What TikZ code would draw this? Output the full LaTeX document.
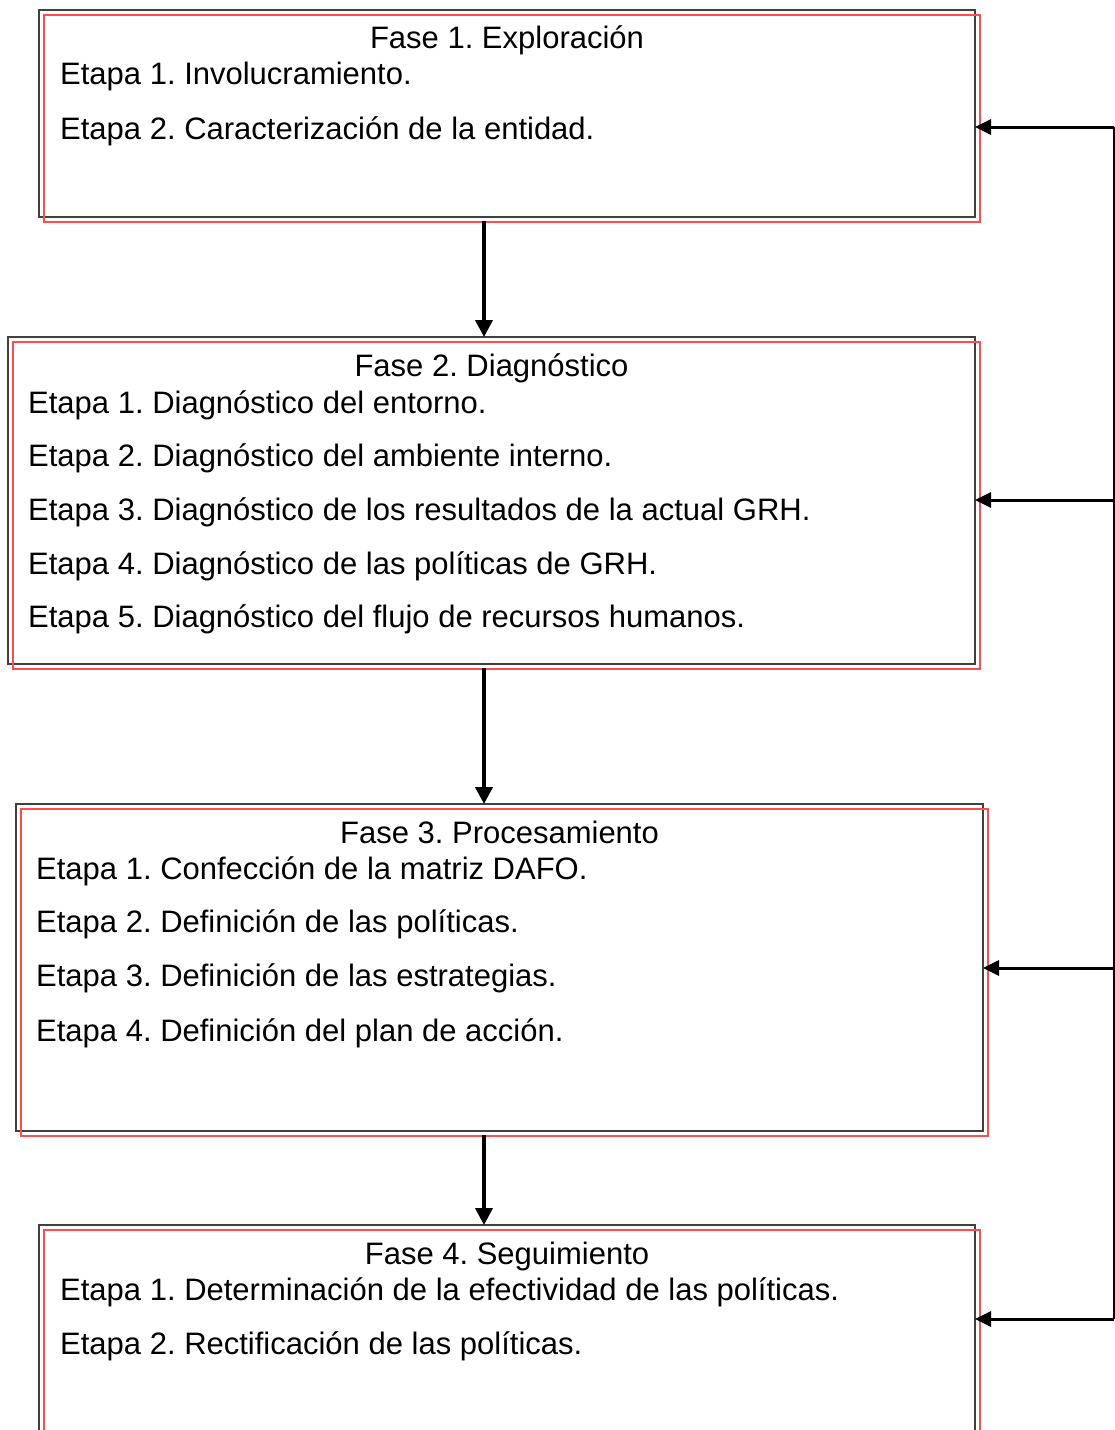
\documentclass[tikz,border=0pt]{standalone}
\usepackage{fontspec}
\setmainfont{Liberation Sans}
\usetikzlibrary{arrows.meta}
\frenchspacing

\tikzset{
	fase/.style={draw=black!75, line width=1.4pt, outer sep=0pt, inner sep=0pt},
	sombra/.style={draw=red!70, line width=1.3pt},
	titulo/.style={anchor=base, inner sep=0pt},
	etapa/.style={anchor=base west, inner sep=0pt},
	flecha/.style={line width=4pt, -{Triangle[length=17pt,width=17pt]}},
	retorno/.style={line width=3pt, -{Triangle[length=16pt,width=15pt]}},
}

\begin{document}
\begin{tikzpicture}[x=1pt, y=-1pt, font=\fontsize{31}{37}\selectfont]
		\useasboundingbox (0,0) rectangle (1115,1430);
		\clip (0,0) rectangle (1115,1430);

		% fases
		\node[fase, minimum width=936pt, minimum height=207pt] (f1) at (507,113.5) {};
		\node[fase, minimum width=967pt, minimum height=327pt] (f2) at (491.5,500.5) {};
		\node[fase, minimum width=967pt, minimum height=327pt] (f3) at (499.5,967.5) {};
		\node[fase, minimum width=936pt, minimum height=215pt] (f4) at (507,1332.5) {};
		\foreach \f in {f1,f2,f3,f4}
			\draw[sombra] ([shift={(5,5)}]\f.north west) rectangle ([shift={(5,5)}]\f.south east);

		% fase 1
		\node[titulo] (t1) at (507,48) {Fase 1. Exploración};
		\node[etapa] (e11) at (60,84) {Etapa 1. Involucramiento.};
		\node[etapa] (e12) at (60,139) {Etapa 2. Caracterización de la entidad.};

		% fase 2
		\node[titulo] (t2) at (491.5,376) {Fase 2. Diagnóstico};
		\node[etapa] (e21) at (28,413) {Etapa 1. Diagnóstico del entorno.};
		\node[etapa] (e22) at (28,466) {Etapa 2. Diagnóstico del ambiente interno.};
		\node[etapa] (e23) at (28,520) {Etapa 3. Diagnóstico de los resultados de la actual GRH.};
		\node[etapa] (e24) at (28,574) {Etapa 4. Diagnóstico de las políticas de GRH.};
		\node[etapa] (e25) at (28,627) {Etapa 5. Diagnóstico del flujo de recursos humanos.};

		% fase 3
		\node[titulo] (t3) at (499.5,843) {Fase 3. Procesamiento};
		\node[etapa] (e31) at (36,879) {Etapa 1. Confección de la matriz DAFO.};
		\node[etapa] (e32) at (36,932) {Etapa 2. Definición de las políticas.};
		\node[etapa] (e33) at (36,986) {Etapa 3. Definición de las estrategias.};
		\node[etapa] (e34) at (36,1041) {Etapa 4. Definición del plan de acción.};

		% fase 4
		\node[titulo] (t4) at (507,1264) {Fase 4. Seguimiento};
		\node[etapa] (e41) at (60,1300) {Etapa 1. Determinación de la efectividad de las políticas.};
		\node[etapa] (e42) at (60,1354) {Etapa 2. Rectificación de las políticas.};

		% flechas entre fases
		\coordinate (eje) at (484,0);
		\draw[flecha] ([yshift=-4pt]f1.south -| eje) -- (f2.north -| eje);
		\draw[flecha] ([yshift=-4pt]f2.south -| eje) -- (f3.north -| eje);
		\draw[flecha] ([yshift=-4pt]f3.south -| eje) -- (f4.north -| eje);

		% retorno
		\coordinate (r1) at (1114,127);
		\coordinate (r2) at (1114,500);
		\coordinate (r3) at (1114,968);
		\coordinate (r4) at (1114,1319);
		\draw[line width=3pt] (r1) -- (r4);
		\draw[retorno] (r1) -- (r1 -| f1.east);
		\draw[retorno] (r2) -- (r2 -| f2.east);
		\draw[retorno] (r3) -- (r3 -| f3.east);
		\draw[retorno] (r4) -- (r4 -| f4.east);
\end{tikzpicture}
\end{document}
